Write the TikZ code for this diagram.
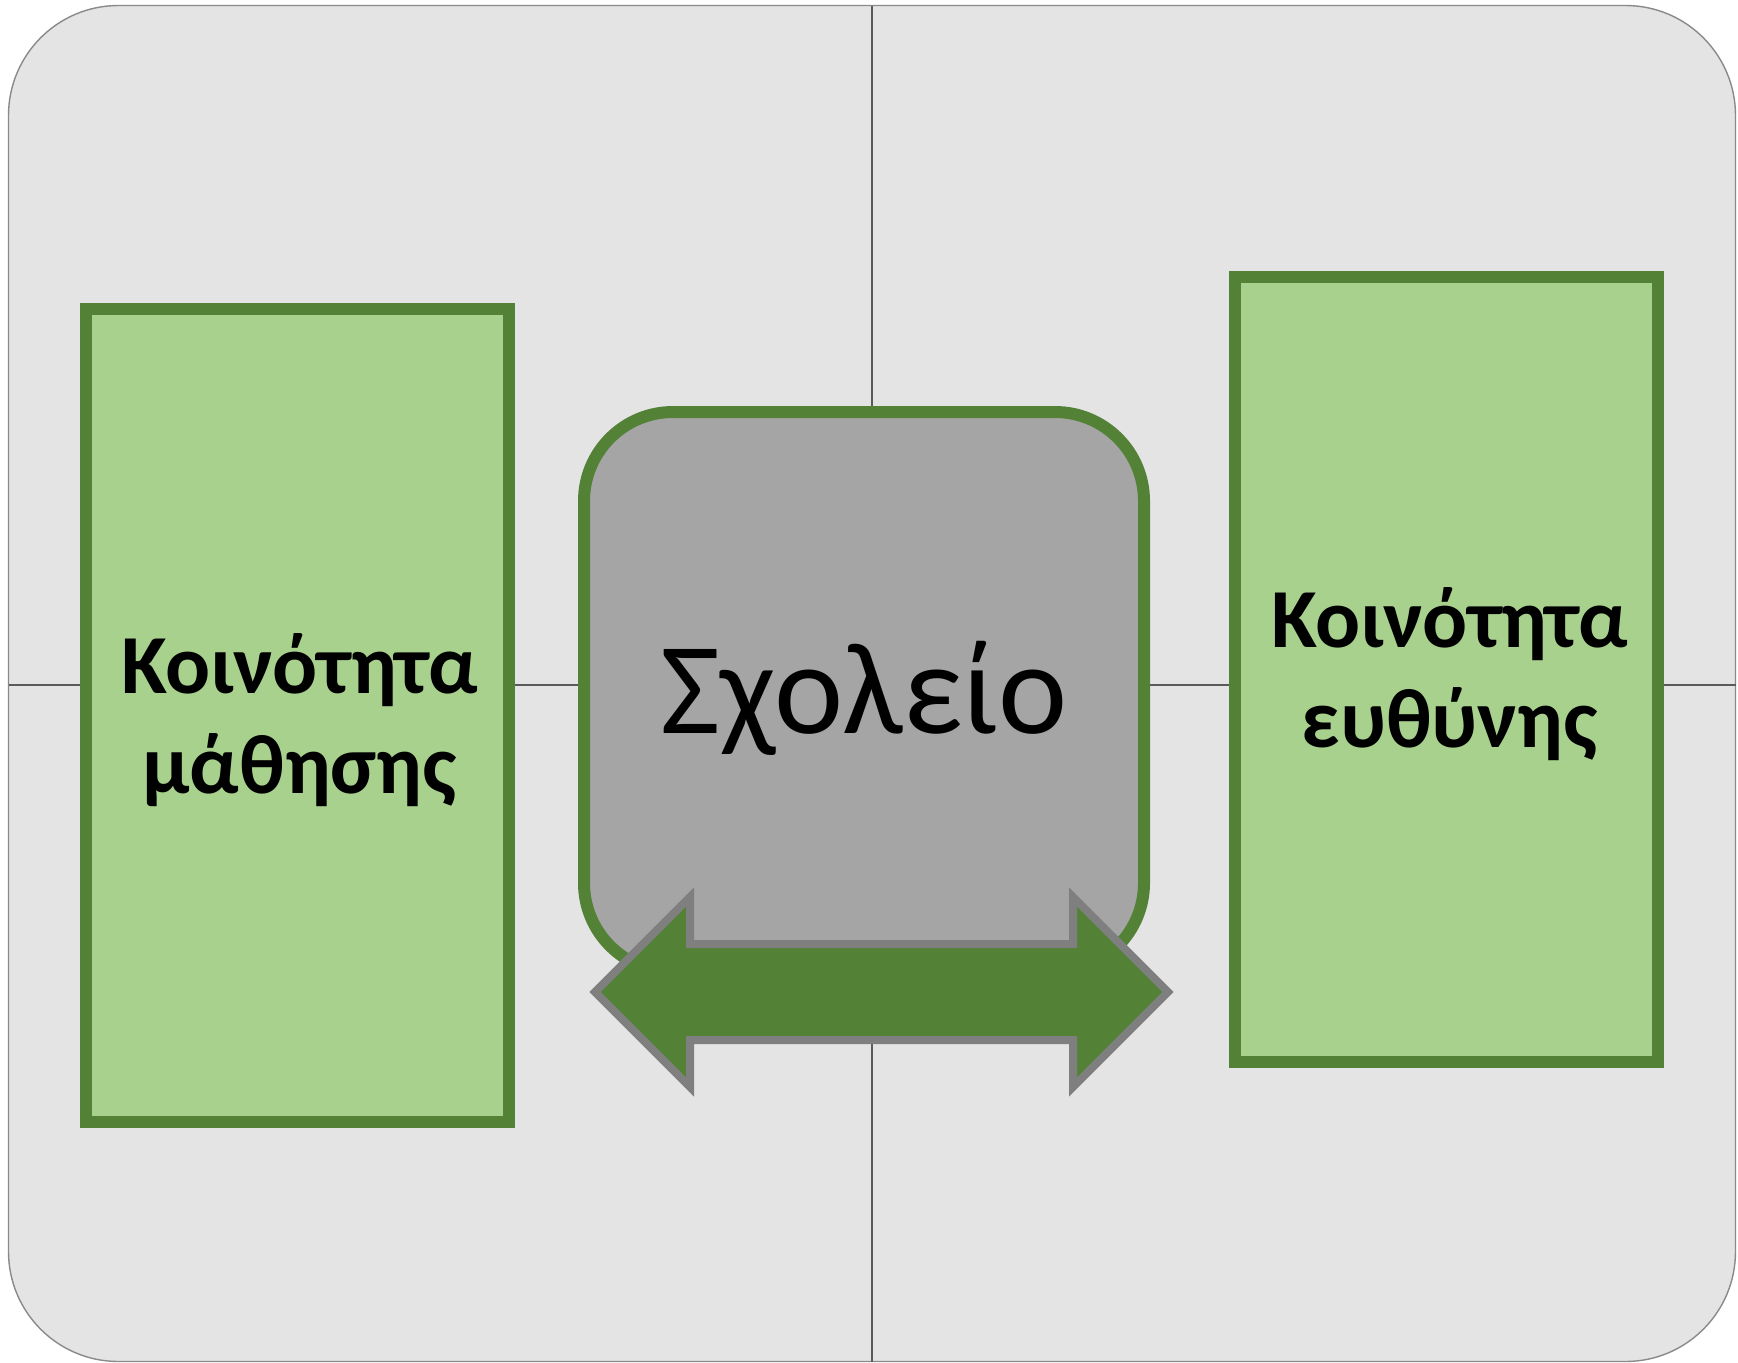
\documentclass[tikz,border=0pt]{standalone}
\usepackage{fontspec}
\setmainfont{Carlito}
\definecolor{bgfill}{HTML}{E4E4E4}
\definecolor{bgline}{HTML}{8A8A8A}
\definecolor{crossline}{HTML}{5A5A5A}
\definecolor{lightgreen}{HTML}{A9D18E}
\definecolor{darkgreen}{HTML}{538135}
\definecolor{boxgrey}{HTML}{A5A5A5}
\definecolor{arrowline}{HTML}{7F7F7F}
\begin{document}
\begin{tikzpicture}[x=1pt,y=-1pt,
  greenbox/.style={draw=darkgreen, fill=lightgreen, line width=12pt, inner sep=0pt, outer sep=0pt},
  schoolbox/.style={draw=darkgreen, fill=boxgrey, line width=12pt, rounded corners=89pt, inner sep=0pt, outer sep=0pt},
  boldlbl/.style={font=\fontsize{84}{100}\selectfont\bfseries, align=center, text=black, inner sep=0pt},
  biglbl/.style={font=\fontsize{131}{150}\selectfont, text=black, inner sep=0pt},
  cross/.style={draw=crossline, line width=1.4pt},
  dblarrow/.style={draw=arrowline, fill=darkgreen, line width=8pt, line join=miter, miter limit=10}
]
\useasboundingbox (0,0) rectangle (1738,1363);
% background
\node[draw=bgline, fill=bgfill, line width=1.4pt, rounded corners=110pt, minimum width=1727pt, minimum height=1356pt, inner sep=0pt, outer sep=0pt] (bg) at (872,683.5) {};
% cross lines
\coordinate (ctop) at (872,5.5);
\coordinate (cbot) at (872,1361.5);
\coordinate (cleft) at (8.5,685);
\coordinate (cright) at (1735.5,685);
\draw[cross] (ctop) -- (cbot);
\draw[cross] (cleft) -- (cright);
% green boxes
\node[greenbox, minimum width=423pt, minimum height=813pt] (learn) at (297.5,715.5) {};
\node[greenbox, minimum width=423pt, minimum height=785pt] (resp) at (1446.5,669.5) {};
% school box
\node[schoolbox, minimum width=560pt, minimum height=560pt] (school) at (864,692) {};
% labels (anchor base = baseline of the last line)
\node[boldlbl, anchor=base] (learnlbl) at (299.5,793) {Κοινότητα\\μάθησης};
\node[boldlbl, anchor=base] (resplbl) at (1449.5,747) {Κοινότητα\\ευθύνης};
\node[biglbl, anchor=base] (schoollbl) at (864,733) {Σχολείο};
% double arrow
\draw[dblarrow] (595,992) -- (690,897) -- (690,944) -- (1073,944) -- (1073,897)
  -- (1168,992) -- (1073,1087) -- (1073,1040) -- (690,1040) -- (690,1087) -- cycle;
\end{tikzpicture}
\end{document}
